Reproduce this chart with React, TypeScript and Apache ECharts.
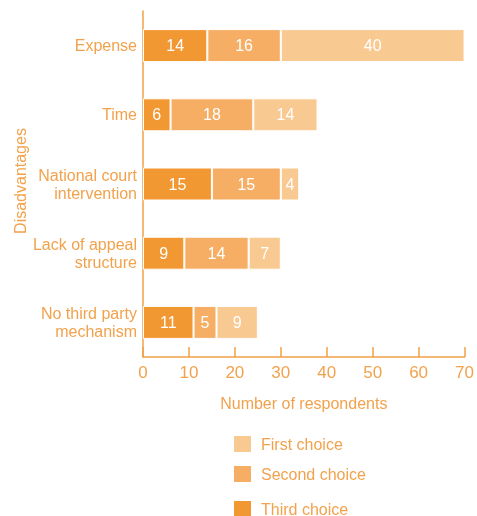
import React, { useEffect, useRef } from "react";
import * as echarts from "echarts";

const categories = [
  "Expense",
  "Time",
  "National court\nintervention",
  "Lack of appeal\nstructure",
  "No third party\nmechanism",
];
const thirdChoice = [14, 6, 15, 9, 11];
const secondChoice = [16, 18, 15, 14, 5];
const firstChoice = [40, 14, 4, 7, 9];
const legendNames = ["First choice", "Second choice", "Third choice"];

const TEXT = "#F2A24C";
const AXIS = "#F0A04A";
const C_THIRD = "#F29833";
const C_SECOND = "#F5AE64";
const C_FIRST = "#F9C992";
const FONT = "Liberation Sans";

export default function App() {
  const ref = useRef<HTMLDivElement>(null);
  useEffect(() => {
    if (!ref.current) return;
    const chart = echarts.init(ref.current, undefined, { renderer: "svg" });
    const mk = (name: string, data: number[], color: string) => ({
      name,
      type: "bar",
      stack: "total",
      data,
      barWidth: 33,
      itemStyle: { color, borderColor: "#fff", borderWidth: 1 },
      label: {
        show: true,
        position: "inside",
        color: "#fff",
        fontSize: 16,
        fontFamily: FONT,
      },
    });
    const legendTops = [434, 464, 499];
    chart.setOption({
      animation: false,
      textStyle: { fontFamily: FONT },
      grid: { left: 143, top: 11, right: 11, bottom: 159 },
      xAxis: {
        type: "value",
        min: 0,
        max: 70,
        interval: 10,
        splitLine: { show: false },
        axisLine: { show: true, lineStyle: { color: AXIS, width: 1.5 } },
        axisTick: { show: true, inside: true, length: 10, lineStyle: { color: AXIS, width: 1.5 } },
        axisLabel: { color: TEXT, fontSize: 17, margin: 7, fontFamily: FONT },
        name: "Number of respondents",
        nameLocation: "middle",
        nameGap: 38,
        nameTextStyle: { color: TEXT, fontSize: 16, fontFamily: FONT },
      },
      yAxis: {
        type: "category",
        data: categories,
        inverse: true,
        axisLine: { show: true, lineStyle: { color: AXIS, width: 1.5 } },
        axisTick: { show: false },
        axisLabel: {
          color: TEXT,
          fontSize: 16,
          margin: 6,
          lineHeight: 18,
          align: "right",
          fontFamily: FONT,
        },
      },
      legend: legendNames.map((n, i) => ({
        orient: "vertical",
        left: 232,
        top: legendTops[i],
        padding: 0,
        itemWidth: 19,
        itemHeight: 18,
        itemGap: 10,
        icon: "rect",
        data: [n],
        textStyle: {
          color: TEXT,
          fontSize: 16,
          fontFamily: FONT,
          padding: [0, 0, 0, 4],
        },
        selectedMode: false,
      })),
      graphic: [
        {
          type: "text",
          x: 20,
          y: 181,
          rotation: Math.PI / 2,
          style: {
            text: "Disadvantages",
            fill: TEXT,
            fontSize: 16,
            fontFamily: FONT,
            align: "center",
            verticalAlign: "middle",
          },
        },
      ],
      series: [
        mk("Third choice", thirdChoice, C_THIRD),
        mk("Second choice", secondChoice, C_SECOND),
        mk("First choice", firstChoice, C_FIRST),
      ],
    });
    return () => chart.dispose();
  }, []);
  return (
    <div
      ref={ref}
      style={{ width: 477, height: 516, position: "fixed", left: 0, top: 0 }}
    />
  );
}
